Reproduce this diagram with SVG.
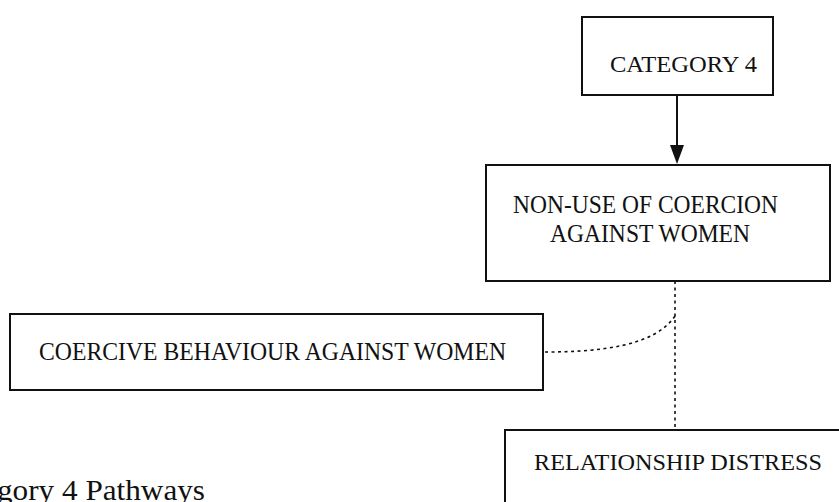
<svg xmlns="http://www.w3.org/2000/svg" width="839" height="502" viewBox="0 0 839 502">
<style>
.box{fill:#ffffff;stroke:#111;stroke-width:2}
.t{font-family:"Liberation Serif","Times New Roman",serif;font-size:24px;fill:#111}
.solid{fill:none;stroke:#111;stroke-width:2}
.dot{fill:none;stroke:#111;stroke-width:1.6;stroke-dasharray:3 3.5}
</style>
<rect width="839" height="502" fill="#ffffff"/>
<g id="connectors">
<line class="solid" x1="677" y1="95" x2="677" y2="145"/>
<path d="M670,145 L684,145 L677,164 Z" fill="#111"/>
<line class="dot" x1="675" y1="281" x2="675" y2="430"/>
<path class="dot" d="M545,352 C600,352 655,346 675,316"/>
</g>
<g id="category4">
<rect class="box" x="582" y="17" width="191" height="78"/>
<text class="t" x="610" y="72" textLength="147" lengthAdjust="spacingAndGlyphs">CATEGORY 4</text>
</g>
<g id="nonuse">
<rect class="box" x="486" y="165" width="344" height="116"/>
<text class="t" x="513" y="213" style="font-size:25px" textLength="265" lengthAdjust="spacingAndGlyphs">NON-USE OF COERCION</text>
<text class="t" x="550" y="242" style="font-size:25px" textLength="200" lengthAdjust="spacingAndGlyphs">AGAINST WOMEN</text>
</g>
<g id="coercive">
<rect class="box" x="10" y="314" width="533" height="76"/>
<text class="t" x="39" y="360" style="font-size:26px" textLength="467" lengthAdjust="spacingAndGlyphs">COERCIVE BEHAVIOUR AGAINST WOMEN</text>
</g>
<g id="distress">
<rect class="box" x="505" y="430" width="345" height="90"/>
<text class="t" x="534" y="470" textLength="288" lengthAdjust="spacingAndGlyphs">RELATIONSHIP DISTRESS</text>
</g>
<g id="caption">
<text x="-3" y="500" style="font-family:'Liberation Serif','Times New Roman',serif;font-size:30px;fill:#111" textLength="208" lengthAdjust="spacingAndGlyphs">gory 4 Pathways</text>
</g>
</svg>
